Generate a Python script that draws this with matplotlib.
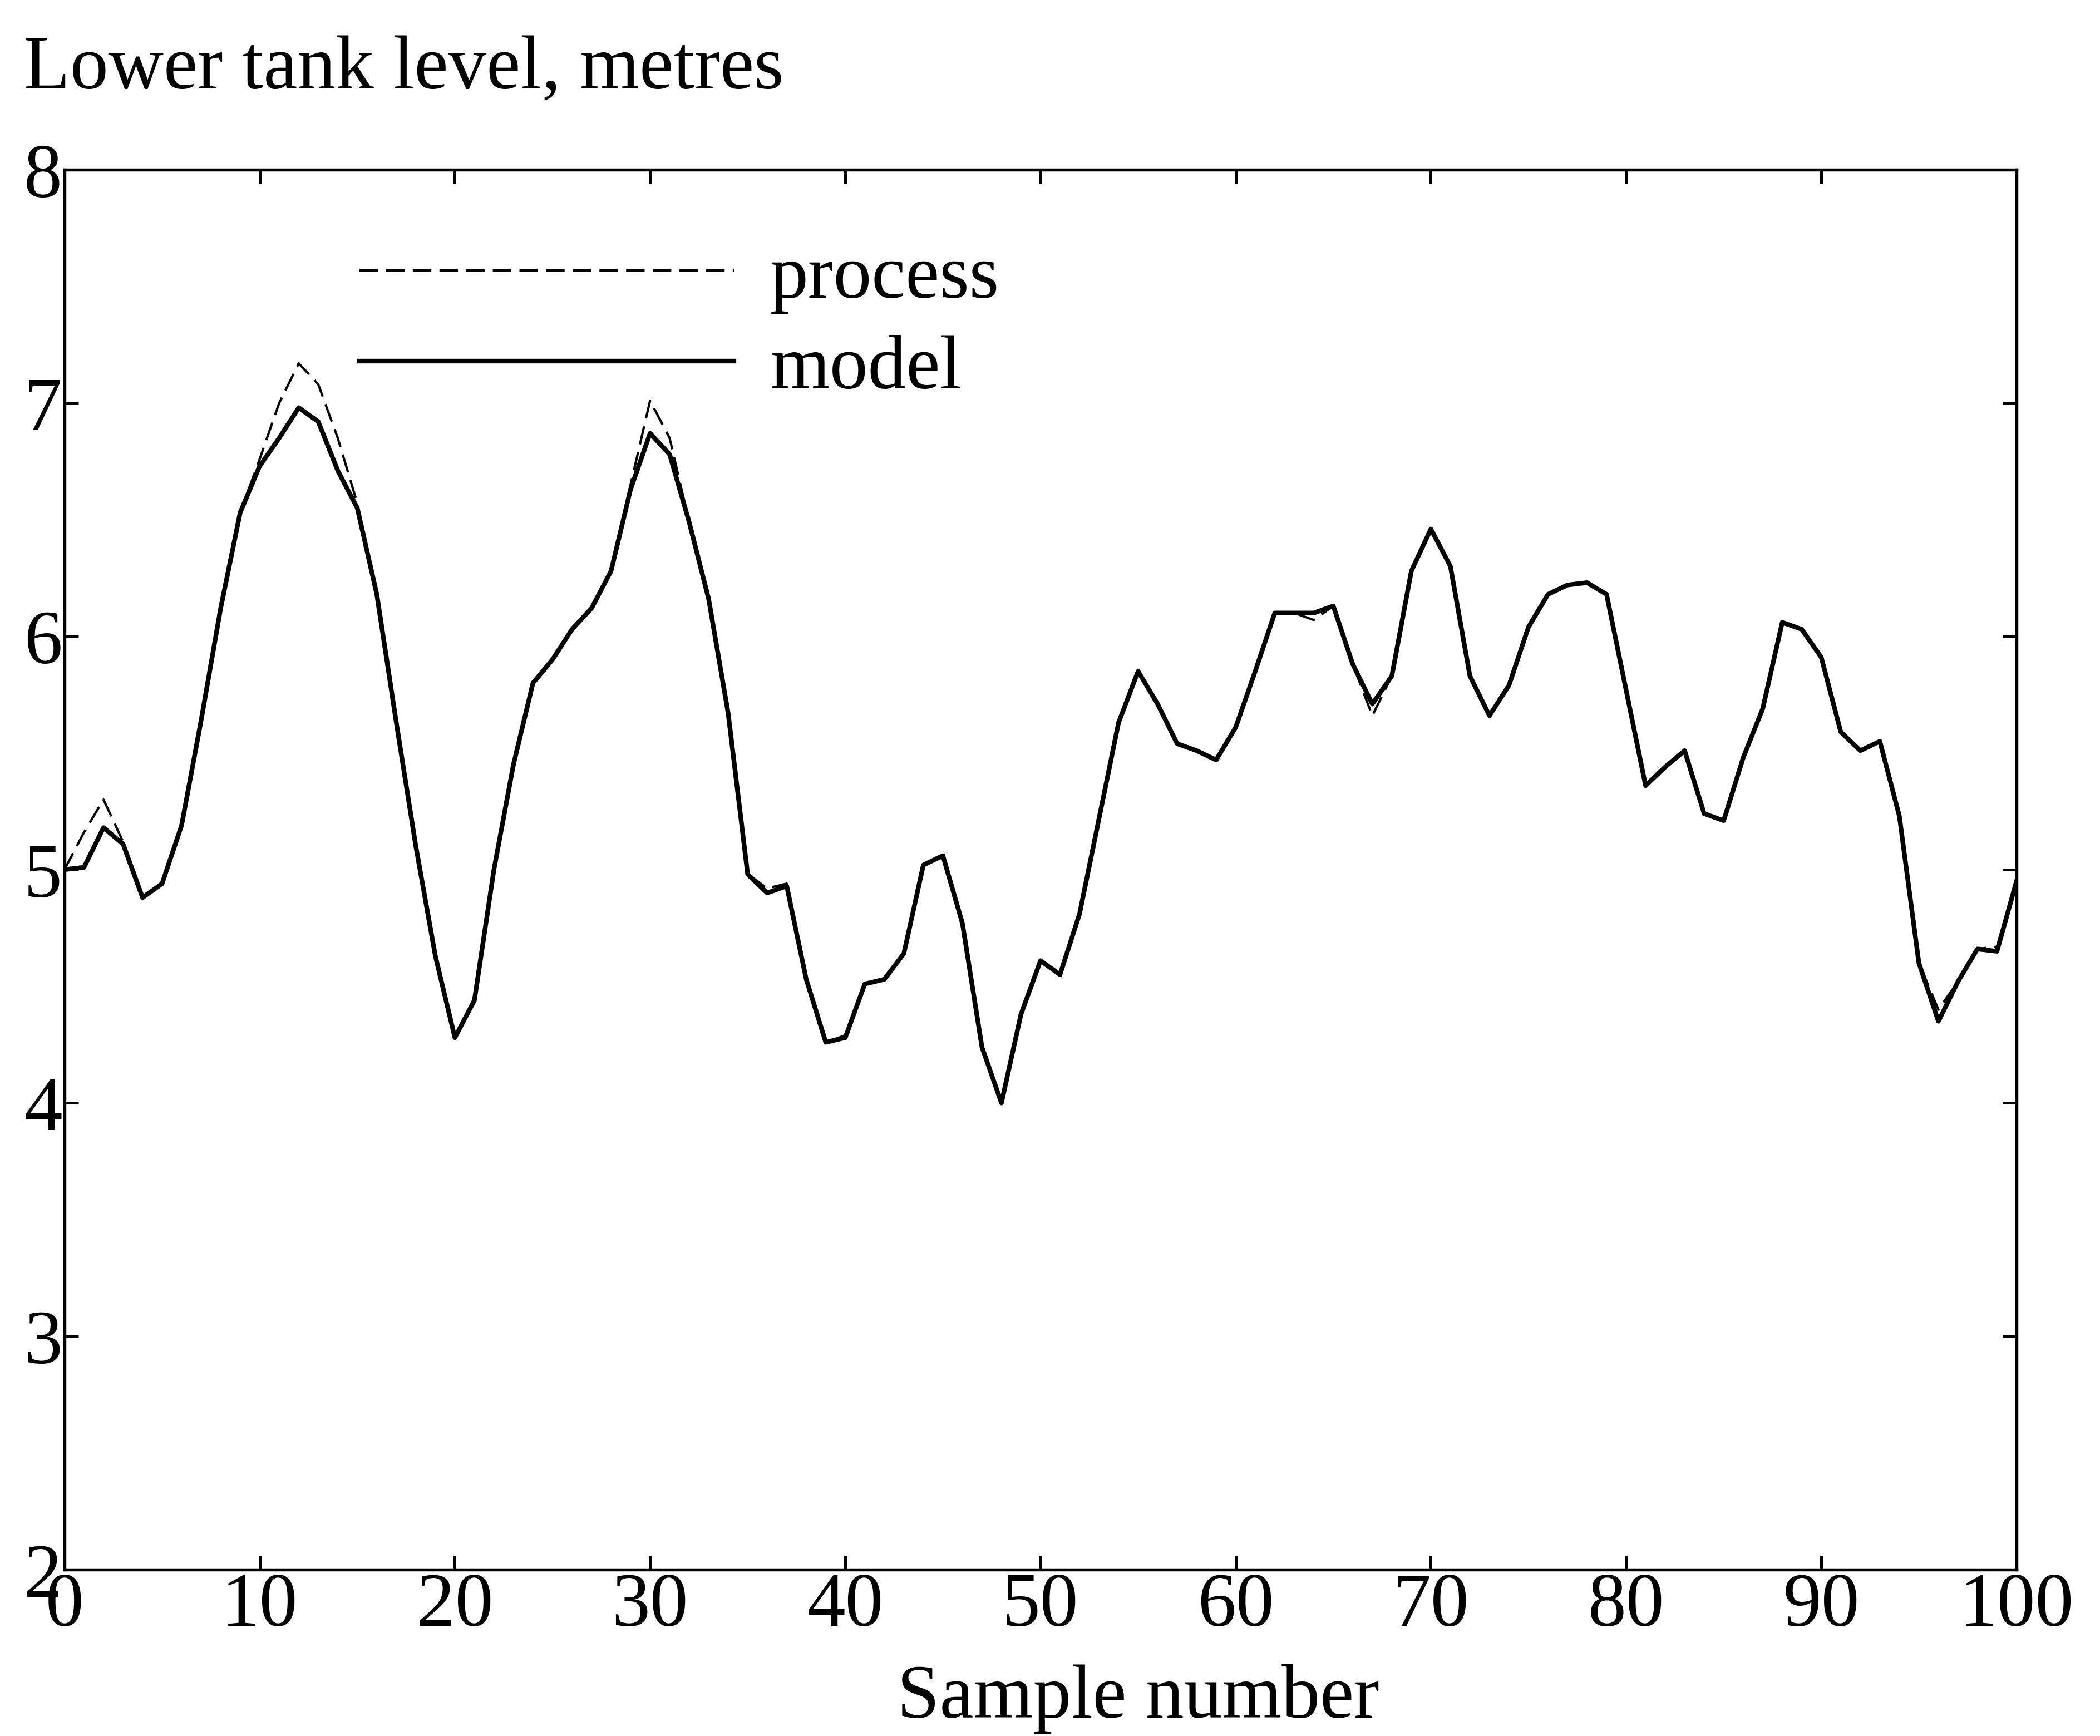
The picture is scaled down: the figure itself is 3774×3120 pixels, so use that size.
import matplotlib
matplotlib.use("Agg")
import matplotlib.pyplot as plt
import numpy as np

plt.rcParams['font.family'] = ['Liberation Serif', 'DejaVu Serif']

# Lower tank level at each sample
samples = np.arange(0, 101)
model = [
    5.00, 5.01, 5.18, 5.11, 4.88, 4.94, 5.19, 5.64, 6.12, 6.53,
    6.73, 6.85, 6.98, 6.92, 6.71, 6.55, 6.18, 5.63, 5.10, 4.63,
    4.28, 4.44, 5.00, 5.45, 5.80, 5.90, 6.03, 6.12, 6.28, 6.63,
    6.87, 6.78, 6.49, 6.16, 5.67, 4.98, 4.90, 4.93, 4.53, 4.26,
    4.28, 4.51, 4.53, 4.64, 5.02, 5.06, 4.77, 4.24, 4.00, 4.38,
    4.61, 4.55, 4.81, 5.22, 5.63, 5.85, 5.71, 5.54, 5.51, 5.47,
    5.61, 5.85, 6.10, 6.10, 6.10, 6.13, 5.88, 5.71, 5.83, 6.28,
    6.46, 6.30, 5.83, 5.66, 5.79, 6.04, 6.18, 6.22, 6.23, 6.18,
    5.77, 5.36, 5.44, 5.51, 5.24, 5.21, 5.48, 5.69, 6.06, 6.03,
    5.91, 5.59, 5.51, 5.55, 5.23, 4.60, 4.35, 4.52, 4.66, 4.65,
    4.95,
]
process = [
    5.00, 5.16, 5.30, 5.12, 4.88, 4.94, 5.19, 5.64, 6.12, 6.53,
    6.76, 7.00, 7.17, 7.08, 6.85, 6.57, 6.18, 5.63, 5.10, 4.63,
    4.28, 4.44, 5.00, 5.45, 5.80, 5.90, 6.03, 6.12, 6.28, 6.65,
    7.01, 6.85, 6.49, 6.16, 5.67, 4.98, 4.92, 4.94, 4.53, 4.26,
    4.29, 4.51, 4.53, 4.64, 5.02, 5.06, 4.77, 4.24, 4.00, 4.38,
    4.61, 4.55, 4.81, 5.22, 5.63, 5.85, 5.71, 5.54, 5.51, 5.47,
    5.61, 5.85, 6.10, 6.10, 6.07, 6.13, 5.88, 5.66, 5.83, 6.28,
    6.46, 6.30, 5.83, 5.66, 5.79, 6.04, 6.18, 6.22, 6.23, 6.18,
    5.77, 5.36, 5.44, 5.51, 5.24, 5.21, 5.48, 5.69, 6.06, 6.03,
    5.91, 5.59, 5.51, 5.55, 5.23, 4.60, 4.40, 4.52, 4.66, 4.67,
    4.95,
]
x_ticks = list(range(0, 101, 10))
y_ticks = [2, 3, 4, 5, 6, 7, 8]

fig = plt.figure(figsize=(12.583, 10.403), dpi=300)
ax = fig.add_axes([0.0307, 0.0958, 0.9293, 0.8062])

ax.plot(samples, process, color='black', lw=1.0, dashes=(8, 3.5), label='process')
ax.plot(samples, model, color='black', lw=2.0, label='model')

ax.set_xlim(0, 100)
ax.set_ylim(2, 8)
ax.set_xticks(x_ticks)
ax.set_yticks(y_ticks)

fs = 33
ax.tick_params(direction='in', length=6, width=1.2, top=True, right=True,
               labelsize=fs, pad=1)
for s in ax.spines.values():
    s.set_linewidth(1.3)

fig.text(0.5418, 0.0216, 'Sample number', fontsize=fs, va='center', ha='center')
fig.text(0.011, 0.960, 'Lower tank level, metres', fontsize=fs, va='center', ha='left')

leg = ax.legend(loc='upper left', bbox_to_anchor=(0.151, 0.947), frameon=False,
                fontsize=fs, handlelength=4.9, handletextpad=0.47,
                labelspacing=0.27, borderpad=0, borderaxespad=0)

fig.savefig('out.png', dpi=300)
